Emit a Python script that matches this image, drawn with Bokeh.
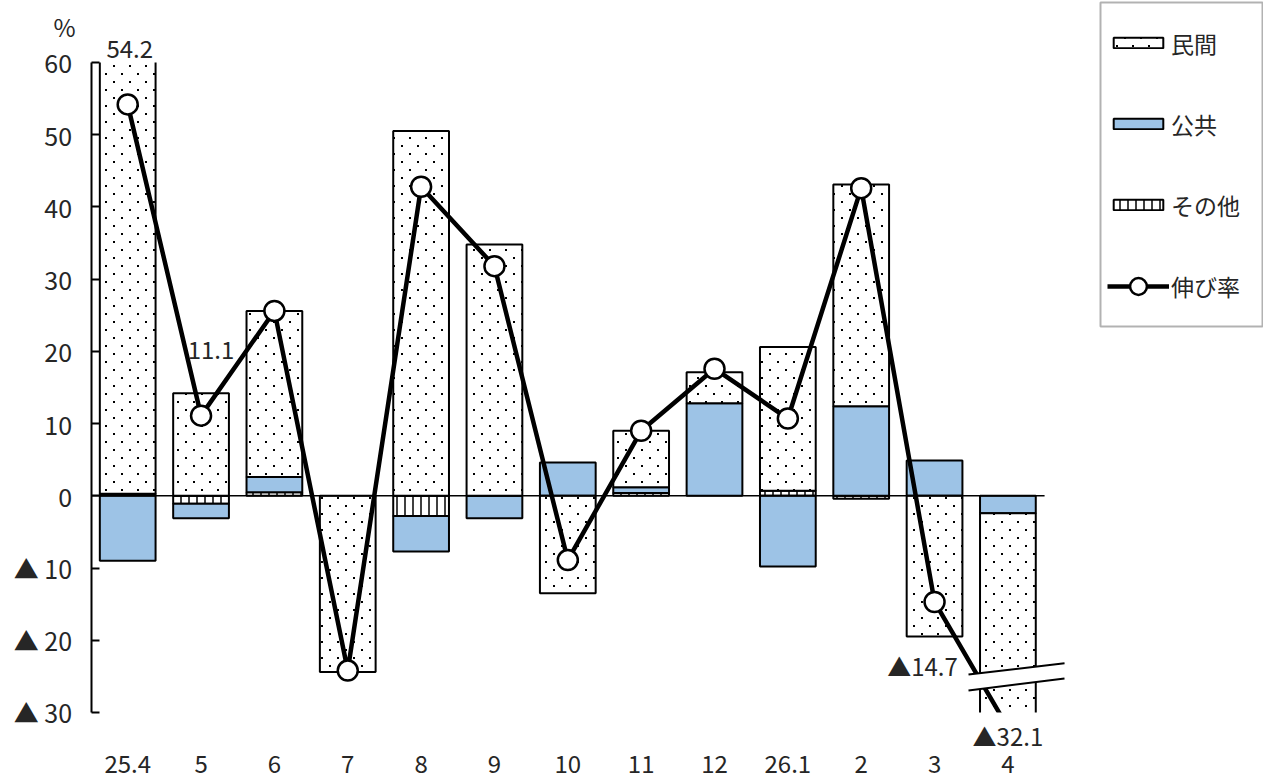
import base64, struct, zlib
import numpy as np
from bokeh.plotting import figure
from bokeh.models import (ColumnDataSource, Range1d, FixedTicker, Label, BoxAnnotation,
                          Legend, LegendItem, PolyAnnotation, Arrow, ImageURLTexture)
from bokeh.core.properties import value
from bokeh.embed import file_html
from bokeh.resources import INLINE

# ---------------- data ----------------
categories = ["25.4", "5", "6", "7", "8", "9", "10", "11", "12", "26.1", "2", "3", "4"]
private = [62.9, 14.2, 23.0, -24.4, 50.5, 34.8, -13.5, 7.8, 4.3, 19.9, 30.7, -19.5, -29.7]
public = [-9.0, -2.0, 2.1, 0.0, -4.9, -3.1, 4.6, 0.8, 12.8, -9.8, 12.4, 4.9, -2.4]
other = [0.3, -1.1, 0.5, 0.0, -2.8, 0.0, 0.0, 0.4, 0.0, 0.7, -0.4, 0.0, 0.0]
growth = [54.2, 11.1, 25.6, -24.2, 42.8, 31.8, -8.9, 9.0, 17.6, 10.7, 42.6, -14.7, -32.1]
series_names = ["民間", "公共", "その他", "伸び率"]
y_ticks = [-30, -20, -10, 0, 10, 20, 30, 40, 50, 60]
y_tick_labels = ["▲ 30", "▲ 20", "▲ 10", "0", "10", "20", "30", "40", "50", "60"]
labelled_points = ["25.4", "5", "3", "4"]

FONT = "Noto Sans CJK JP"
TXT = "#262626"
BLUE = "#9DC3E6"
FS = "24px"
Y_MIN, Y_MAX = -30, 60          # plotted value-axis extent

n = len(categories)
idx = list(range(n))

# ---------------- stacking (other nearest zero, then public, then private) ----------------
pos = np.zeros(n)
neg = np.zeros(n)
stacks = {}
for name, vals in [("other", other), ("public", public), ("private", private)]:
    xs, b, t = [], [], []
    for i, v in enumerate(vals):
        if v == 0:
            continue
        if v > 0:
            b.append(pos[i]); t.append(pos[i] + v); pos[i] += v
        else:
            t.append(neg[i]); b.append(neg[i] + v); neg[i] += v
        xs.append(i)
    stacks[name] = ColumnDataSource(dict(x=xs, bottom=b, top=t))

# ---------------- sparse dotted texture (16x16 tile, two 2x2 dots) ----------------
def dotted_png(size=16, dots=((1, 1), (9, 9)), d=2):
    rows = []
    for y in range(size):
        row = bytearray([0])
        for x in range(size):
            on = any(dx <= x < dx + d and dy <= y < dy + d for dx, dy in dots)
            row += bytes([0, 0, 0, 255]) if on else bytes([0, 0, 0, 0])
        rows.append(bytes(row))
    def chunk(tag, data):
        return (struct.pack(">I", len(data)) + tag + data +
                struct.pack(">I", zlib.crc32(tag + data) & 0xFFFFFFFF))
    png = (b"\x89PNG\r\n\x1a\n" +
           chunk(b"IHDR", struct.pack(">IIBBBBB", size, size, 8, 6, 0, 0, 0)) +
           chunk(b"IDAT", zlib.compress(b"".join(rows))) + chunk(b"IEND", b""))
    return "data:image/png;base64," + base64.b64encode(png).decode()

dots_tex = ImageURLTexture(url=dotted_png(), repetition="repeat")

# ---------------- layout: the frame covers the whole page, axes pinned inside ----------------
W, H = 1263, 783
PX, X0 = 73.35, 127.2       # px per category, page x of first category
PY, Z0 = 7.2217, 495.3      # px per unit, page y of zero
XR = (-X0 / PX, (W - X0) / PX)
YR = (-(H - Z0) / PY, Z0 / PY)
def px2x(px): return XR[0] + px / PX
def py2y(py): return YR[1] - py / PY

p = figure(x_range=Range1d(*XR), y_range=Range1d(*YR), width=W, height=H,
           min_border=0, min_border_left=0, min_border_right=0, min_border_top=0, min_border_bottom=0,
           output_backend="svg", toolbar_location=None,
           background_fill_color="white", border_fill_color="white", outline_line_color=None)
p.xgrid.visible = False
p.ygrid.visible = False

BW = 0.76
r_other = p.vbar(x="x", bottom="bottom", top="top", width=BW, source=stacks["other"],
                 fill_color="white", line_color="black", line_width=2,
                 hatch_pattern="vertical_line", hatch_scale=8, hatch_weight=1.5, hatch_color="black")
r_pub = p.vbar(x="x", bottom="bottom", top="top", width=BW, source=stacks["public"],
               fill_color=BLUE, line_color="black", line_width=2)
r_priv = p.vbar(x="x", bottom="bottom", top="top", width=BW, source=stacks["private"],
                fill_color="white", line_color="black", line_width=2,
                hatch_pattern=value("sparse_dots"), hatch_extra={"sparse_dots": dots_tex},
                hatch_scale=16, hatch_color="black")

# zero line across the category area
p.segment(x0=[-0.5], y0=[0], x1=[n - 0.5], y1=[0], line_color="black", line_width=1.5)

line_src = ColumnDataSource(dict(x=idx, y=growth))
r_line = p.line(x="x", y="y", source=line_src, line_color="black", line_width=4.5)
r_pts = p.scatter(x="x", y="y", source=line_src, size=20, marker="circle",
                  fill_color="white", line_color="black", line_width=2.5)

# white masks outside the value range (plot-area clipping)
p.quad(left=[XR[0], XR[0]], right=[n - 0.5 + 0.8, n - 0.5 + 0.8],
       bottom=[Y_MAX, YR[0]], top=[YR[1], Y_MIN],
       fill_color="white", line_color=None)

# axis break on the last bar
ib = categories.index("4")
bx0, bx1 = ib - 0.537, ib + 0.772
up0, up1, lo0, lo1 = -24.75, -23.2, -26.97, -25.3
p.add_layout(PolyAnnotation(xs=[bx0, bx1, bx1, bx0], ys=[up0, up1, lo1, lo0],
                            fill_color="white", fill_alpha=1, line_alpha=0))
p.add_layout(Arrow(end=None, x_start=bx0, y_start=up0, x_end=bx1, y_end=up1,
                   line_color="black", line_width=2))
p.add_layout(Arrow(end=None, x_start=bx0, y_start=lo0, x_end=bx1, y_end=lo1,
                   line_color="black", line_width=2))

# axes (pinned inside the frame)
ya = p.yaxis[0]
ya.fixed_location = -0.5
ya.bounds = (Y_MIN, Y_MAX)
ya.ticker = FixedTicker(ticks=y_ticks)
ya.major_label_overrides = dict(zip(y_ticks, y_tick_labels))
ya.axis_line_color = "black"
ya.axis_line_width = 2
ya.major_tick_in = 8
ya.major_tick_out = 0
ya.major_tick_line_width = 2
ya.minor_tick_line_color = None
ya.major_label_standoff = 19
ya.major_label_text_font = FONT
ya.major_label_text_font_size = "25px"
ya.major_label_text_color = TXT

xa = p.xaxis[0]
xa.fixed_location = Y_MIN
xa.ticker = FixedTicker(ticks=idx)
xa.major_label_overrides = dict(zip(idx, categories))
xa.axis_line_color = None
xa.major_tick_line_color = None
xa.minor_tick_line_color = None
xa.major_label_standoff = 37
xa.major_label_text_font = FONT
xa.major_label_text_font_size = FS
xa.major_label_text_color = TXT

# "%" unit
p.add_layout(Label(x=px2x(64), y=py2y(26), text="%", text_align="center", text_baseline="middle",
                   text_font=FONT, text_font_size=FS, text_color=TXT))

# data labels
offsets = {"25.4": (2, 55), "5": (10, 66), "3": (-12, -64), "4": (0, -8)}
for c in labelled_points:
    i = categories.index(c)
    v = growth[i]
    txt = f"{v:.1f}" if v >= 0 else "▲" + f"{-v:.1f}"
    dx, dy = offsets[c]
    p.add_layout(Label(x=i, y=v, x_offset=dx, y_offset=dy, text=txt,
                       text_align="center", text_baseline="middle",
                       text_font=FONT, text_font_size=FS, text_color=TXT))

# legend: outer box + two borderless legends (bars / line with a larger marker key)
p.add_layout(BoxAnnotation(left=px2x(1100), right=px2x(1262), top=py2y(2), bottom=py2y(326),
                           fill_color=None, fill_alpha=0, line_color="black", line_width=2))
common = dict(orientation="vertical", glyph_width=62, label_standoff=2, padding=10, margin=0,
              label_text_font=FONT, label_text_font_size="23px", label_text_color=TXT,
              border_line_color=None, background_fill_alpha=0)
leg1 = Legend(items=[LegendItem(label=series_names[0], renderers=[r_priv]),
                     LegendItem(label=series_names[1], renderers=[r_pub]),
                     LegendItem(label=series_names[2], renderers=[r_other])],
              location=(1107, 548), glyph_height=13, label_height=61, spacing=20, **common)
leg2 = Legend(items=[LegendItem(label=series_names[3], renderers=[r_line, r_pts])],
              location=(1107, 476), glyph_height=42, label_height=42, spacing=0, **common)
p.add_layout(leg1)
p.add_layout(leg2)

open("out.html", "w").write(file_html(p, INLINE))
